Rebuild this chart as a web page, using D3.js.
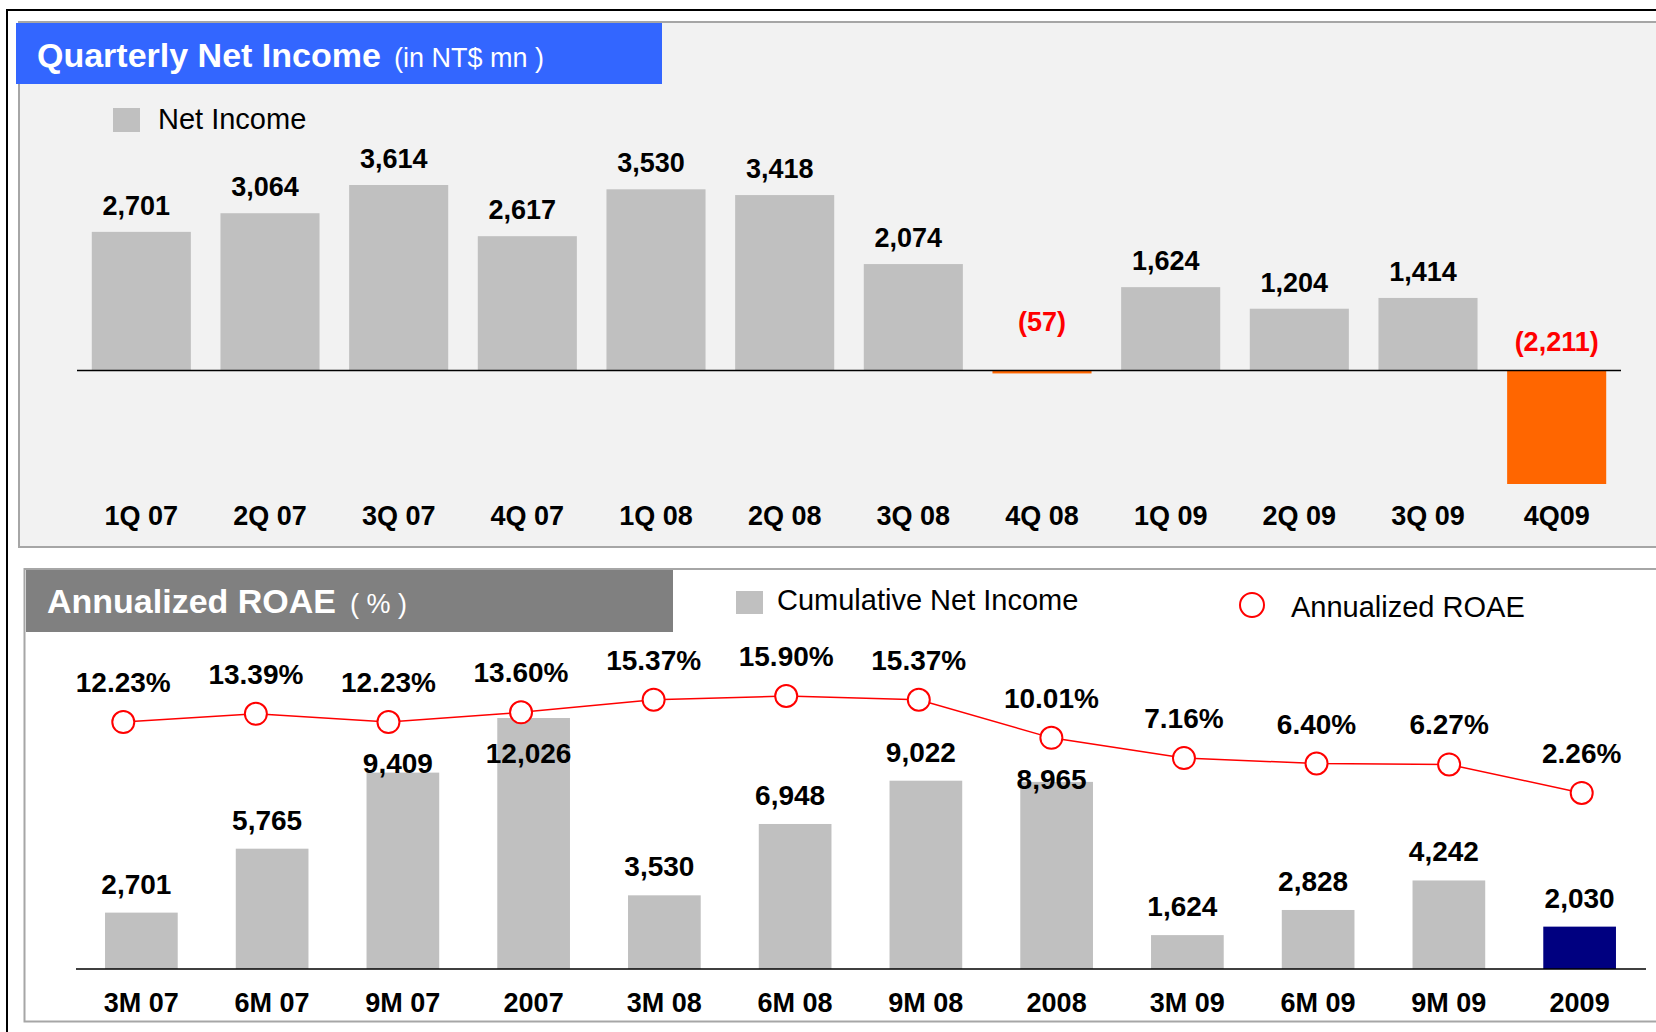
<!DOCTYPE html>
<html lang="en">
<head>
    <meta charset="UTF-8">
    <title>Quarterly Net Income / Annualized ROAE</title>
    <script src="https://d3js.org/d3.v7.min.js"></script>
    <style>
        body {
            margin: 0;
            background: #fff;
            font-family: "Liberation Sans", Arial, sans-serif;
        }
        .val { font-weight: bold; text-anchor: middle; }
        .cat { font-weight: bold; font-size: 27px; text-anchor: middle; }
    </style>
</head>
<body>
    <svg id="chart" width="1656" height="1032"></svg>

    <script>
        // data
        const quarters = ["1Q 07", "2Q 07", "3Q 07", "4Q 07", "1Q 08", "2Q 08", "3Q 08", "4Q 08", "1Q 09", "2Q 09", "3Q 09", "4Q09"];
        const netIncome = [2701, 3064, 3614, 2617, 3530, 3418, 2074, -57, 1624, 1204, 1414, -2211];

        const periods = ["3M 07", "6M 07", "9M 07", "2007", "3M 08", "6M 08", "9M 08", "2008", "3M 09", "6M 09", "9M 09", "2009"];
        const cumulativeIncome = [2701, 5765, 9409, 12026, 3530, 6948, 9022, 8965, 1624, 2828, 4242, 2030];
        const roae = [12.23, 13.39, 12.23, 13.60, 15.37, 15.90, 15.37, 10.01, 7.16, 6.40, 6.27, 2.26];

        const svg = d3.select("#chart");
        const fmt = d3.format(",");
        const fmtNeg = v => v < 0 ? "(" + fmt(-v) + ")" : fmt(v);

        // outer frame + panels
        svg.append("rect").attr("x", 7).attr("y", 10).attr("width", 1700).attr("height", 1100)
            .attr("fill", "none").attr("stroke", "#000").attr("stroke-width", 2);
        svg.append("rect").attr("x", 19).attr("y", 22).attr("width", 1700).attr("height", 525)
            .attr("fill", "#f2f2f2").attr("stroke", "#a6a6a6").attr("stroke-width", 2);
        svg.append("rect").attr("x", 24.5).attr("y", 569).attr("width", 1700).attr("height", 452.5)
            .attr("fill", "#fff").attr("stroke", "#a6a6a6").attr("stroke-width", 2);

        // ---------- top chart: quarterly net income ----------
        svg.append("rect").attr("x", 16).attr("y", 23).attr("width", 646).attr("height", 61).attr("fill", "#3366ff");
        const t1 = svg.append("text").attr("x", 37).attr("y", 67).attr("fill", "#fff");
        t1.append("tspan").attr("font-weight", "bold").attr("font-size", 34).text("Quarterly Net Income");
        t1.append("tspan").attr("font-size", 27).attr("dx", 13).text("(in NT$ mn )");

        svg.append("rect").attr("x", 113).attr("y", 108).attr("width", 27).attr("height", 24).attr("fill", "#c0c0c0");
        svg.append("text").attr("x", 158).attr("y", 129).attr("font-size", 29).text("Net Income");

        const x1 = d3.scaleBand().domain(quarters).range([77, 1621]).paddingInner(0.23).paddingOuter(0.115);
        const y1 = d3.scaleLinear().domain([-2211, 3614]).range([484, 185]);

        const gTop = svg.append("g");
        gTop.selectAll("rect.bar").data(netIncome).join("rect")
            .attr("class", "bar")
            .attr("x", (d, i) => x1(quarters[i]))
            .attr("width", x1.bandwidth())
            .attr("y", d => Math.min(y1(0), y1(d)))
            .attr("height", d => Math.abs(y1(d) - y1(0)))
            .attr("fill", d => d < 0 ? "#ff6600" : "#c0c0c0");

        gTop.append("line").attr("x1", 77).attr("x2", 1621)
            .attr("y1", y1(0)).attr("y2", y1(0)).attr("stroke", "#000").attr("stroke-width", 1.5);

        gTop.selectAll("text.val").data(netIncome).join("text")
            .attr("class", "val")
            .attr("font-size", 27)
            .attr("x", (d, i) => x1(quarters[i]) + x1.bandwidth() / 2 + (d < 0 ? 0 : -5))
            .attr("y", d => d < 0 ? y1(0) - 20 - (Math.abs(y1(d) - y1(0)) < 10 ? 20 : 0) : y1(d) - 17)
            .attr("fill", d => d < 0 ? "#ff0000" : "#000")
            .text(fmtNeg);

        gTop.selectAll("text.cat").data(quarters).join("text")
            .attr("class", "cat")
            .attr("x", d => x1(d) + x1.bandwidth() / 2)
            .attr("y", 525)
            .text(d => d);

        // ---------- bottom chart: cumulative income + ROAE ----------
        svg.append("rect").attr("x", 26).attr("y", 570).attr("width", 647).attr("height", 62).attr("fill", "#808080");
        const t2 = svg.append("text").attr("x", 47).attr("y", 613).attr("fill", "#fff");
        t2.append("tspan").attr("font-weight", "bold").attr("font-size", 34).text("Annualized ROAE");
        t2.append("tspan").attr("font-size", 27).attr("dx", 14).text("( % )");

        svg.append("rect").attr("x", 736).attr("y", 591).attr("width", 27).attr("height", 23).attr("fill", "#c0c0c0");
        svg.append("text").attr("x", 777).attr("y", 610).attr("font-size", 29).text("Cumulative Net Income");
        svg.append("circle").attr("cx", 1252).attr("cy", 605).attr("r", 12)
            .attr("fill", "#fff").attr("stroke", "#ff0000").attr("stroke-width", 2);
        svg.append("text").attr("x", 1291).attr("y", 617).attr("font-size", 29).text("Annualized ROAE");

        const x2 = d3.scaleBand().domain(periods).range([76, 1645]).paddingInner(0.444).paddingOuter(0.222);
        const y2 = d3.scaleLinear().domain([0, 12026]).range([969, 718]);
        const xp = d3.scaleBand().domain(periods).range([57, 1648]);
        const yp = d3.scaleLinear().domain([0, 15.90]).range([809, 696]);

        const gBot = svg.append("g");
        gBot.selectAll("rect.bar").data(cumulativeIncome).join("rect")
            .attr("class", "bar")
            .attr("x", (d, i) => x2(periods[i]))
            .attr("width", x2.bandwidth())
            .attr("y", d => y2(d))
            .attr("height", d => y2(0) - y2(d))
            .attr("fill", (d, i) => i === periods.length - 1 ? "#000080" : "#c0c0c0");

        gBot.append("line").attr("x1", 76).attr("x2", 1646)
            .attr("y1", y2(0)).attr("y2", y2(0)).attr("stroke", "#000").attr("stroke-width", 1.5);

        // value labels, pushed down below the ROAE markers where they would collide
        gBot.selectAll("text.val").data(cumulativeIncome).join("text")
            .attr("class", "val")
            .attr("font-size", 28)
            .attr("x", (d, i) => x2(periods[i]) + x2.bandwidth() / 2 + (i === periods.length - 1 ? 0 : -5))
            .attr("y", (d, i) => Math.max(y2(d) - 19, yp(roae[i]) + 51))
            .text(fmt);

        gBot.selectAll("text.cat").data(periods).join("text")
            .attr("class", "cat")
            .attr("x", d => x2(d) + x2.bandwidth() / 2)
            .attr("y", 1012)
            .text(d => d);

        const line = d3.line()
            .x((d, i) => xp(periods[i]) + xp.bandwidth() / 2)
            .y(d => yp(d));

        gBot.append("path").datum(roae).attr("d", line)
            .attr("fill", "none").attr("stroke", "#ff0000").attr("stroke-width", 1.5);

        gBot.selectAll("circle.pt").data(roae).join("circle")
            .attr("class", "pt")
            .attr("cx", (d, i) => xp(periods[i]) + xp.bandwidth() / 2)
            .attr("cy", d => yp(d))
            .attr("r", 11)
            .attr("fill", "#fff").attr("stroke", "#ff0000").attr("stroke-width", 2);

        gBot.selectAll("text.pct").data(roae).join("text")
            .attr("class", "val pct")
            .attr("font-size", 28)
            .attr("x", (d, i) => xp(periods[i]) + xp.bandwidth() / 2)
            .attr("y", d => yp(d) - 30)
            .text(d => d.toFixed(2) + "%");
    </script>
</body>
</html>
